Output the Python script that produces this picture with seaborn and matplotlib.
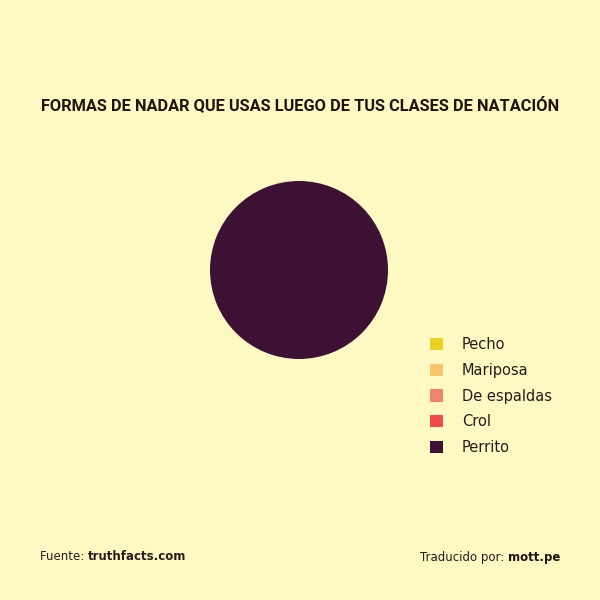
import matplotlib
matplotlib.use("Agg")
import matplotlib.pyplot as plt
import seaborn as sns

categories = ["Pecho", "Mariposa", "De espaldas", "Crol", "Perrito"]
values = [0, 0, 0, 0, 100]
colors = ["#E9D31C", "#F8C46E", "#F0836C", "#EE4B49", "#3C1134"]
title = "FORMAS DE NADAR QUE USAS LUEGO DE TUS CLASES DE NATACIÓN"

bg = "#FEF9C3"
sns.set_theme(style="white", rc={"figure.facecolor": bg, "axes.facecolor": bg})
plt.rcParams['font.family'] = ['DejaVu Sans']
palette = sns.color_palette(colors)

fig = plt.figure(figsize=(6, 6), dpi=100)
ax = fig.add_axes([(299 - 89) / 600, 1 - (270 + 89) / 600, 178 / 600, 178 / 600])
wedges, _ = ax.pie(values, colors=palette, startangle=90, counterclock=False,
                   wedgeprops=dict(linewidth=0))
ax.set_aspect("equal")
ax.set_xlim(-1, 1)
ax.set_ylim(-1, 1)
ax.axis("off")

leg = fig.legend(wedges, categories, loc="upper left",
                 bbox_to_anchor=(430 / 600, 1 - 337 / 600),
                 frameon=False, fontsize=10.5, handlelength=0.9, handleheight=0.9,
                 handletextpad=1.3, labelspacing=0.74, borderaxespad=0, borderpad=0)
for t in leg.get_texts():
    t.set_color("#2a1a1a")

fig.canvas.draw()
renderer = fig.canvas.get_renderer()

ttl = fig.text(0.5, 1 - 105 / 600, title, ha="center", va="center", fontsize=15,
               fontweight="bold", color="#1e1410",
               family=["Roboto", "DejaVu Sans"])
w = ttl.get_window_extent(renderer).width
ttl.set_fontsize(15 * 520 / w)

fy = 1 - 557 / 600
t1 = fig.text(40 / 600, fy, "Fuente: ", ha="left", va="center", fontsize=8.5,
              color="#2a1a1a")
w1 = t1.get_window_extent(renderer).width
fig.text((40 + w1) / 600, fy, "truthfacts.com", ha="left", va="center", fontsize=8.5,
         fontweight="bold", color="#2a1a1a")
t3 = fig.text(560 / 600, fy, "mott.pe", ha="right", va="center", fontsize=8.5,
              fontweight="bold", color="#1e1410")
w3 = t3.get_window_extent(renderer).width
fig.text((560 - w3) / 600, fy, "Traducido por: ", ha="right", va="center", fontsize=8.5,
         color="#2a1a1a")

fig.savefig("out.png", dpi=100, facecolor=bg)
